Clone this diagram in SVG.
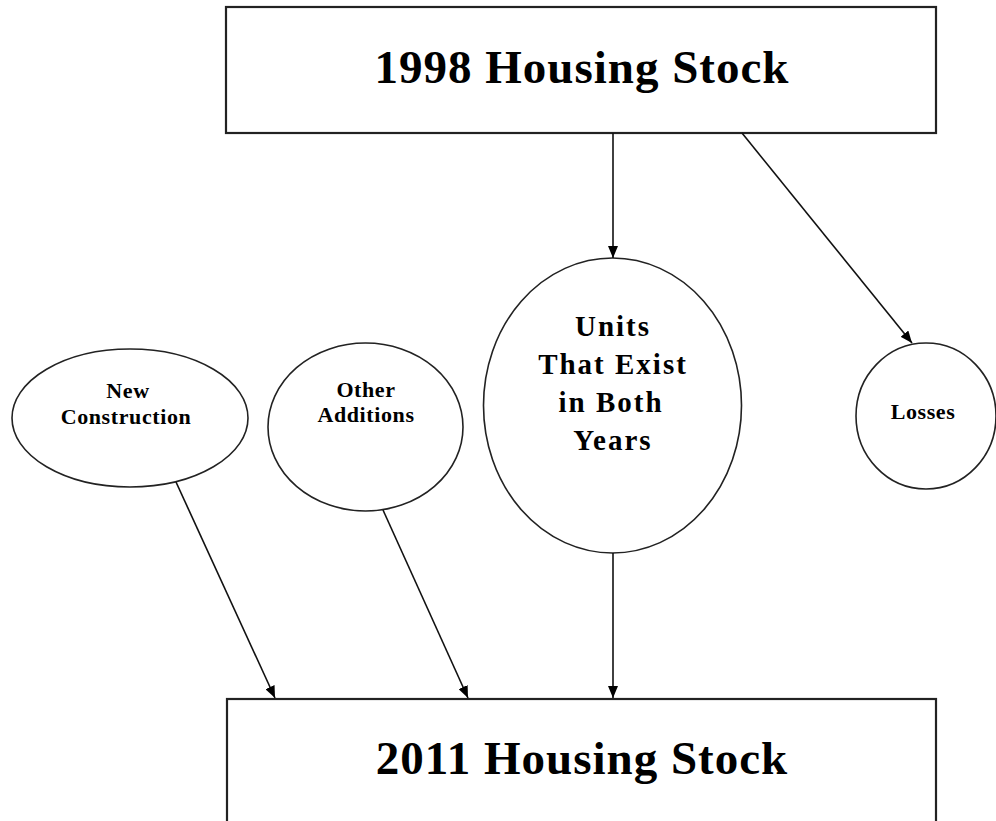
<svg xmlns="http://www.w3.org/2000/svg" width="996" height="821" viewBox="0 0 996 821">
<style>
.box{fill:#fff;stroke:#222;stroke-width:2.2}
.ell{fill:#fff;stroke:#222;stroke-width:1.6}
.t{font-family:"Liberation Serif","Times New Roman",serif;font-weight:bold;fill:#000;text-anchor:middle}
.big{font-size:47px;letter-spacing:1px}
.mid{font-size:29px;letter-spacing:2px}
.sm{font-size:22px;letter-spacing:0.6px}
.con{stroke:#111;stroke-width:1.6;fill:none;marker-end:url(#ah)}
</style>
<defs>
<marker id="ah" viewBox="0 0 12 10" refX="12" refY="5" markerWidth="12" markerHeight="10" markerUnits="userSpaceOnUse" orient="auto">
<path d="M0,0 L12,5 L0,10 Z" fill="#000"/>
</marker>
</defs>
<rect width="996" height="821" fill="#fff"/>
<g id="stock1998">
<rect class="box" x="226" y="7" width="710" height="126"/>
<text class="t big" x="582" y="83">1998 Housing Stock</text>
</g>
<g id="stock2011">
<rect class="box" x="227" y="699" width="709" height="130"/>
<text class="t big" x="582" y="774">2011 Housing Stock</text>
</g>
<g id="newConstruction">
<ellipse class="ell" cx="130" cy="418" rx="118" ry="69"/>
<text class="t sm" x="128" y="398">New</text>
<text class="t sm" x="126" y="424">Construction</text>
</g>
<g id="otherAdditions">
<ellipse class="ell" cx="365.5" cy="427" rx="97.5" ry="84"/>
<text class="t sm" x="366" y="397">Other</text>
<text class="t sm" x="366" y="422">Additions</text>
</g>
<g id="unitsBoth">
<ellipse class="ell" cx="612.5" cy="405.5" rx="129" ry="147.5"/>
<text class="t mid" x="613" y="336">Units</text>
<text class="t mid" x="613" y="374">That Exist</text>
<text class="t mid" x="611" y="412">in Both</text>
<text class="t mid" x="613" y="450">Years</text>
</g>
<g id="losses">
<ellipse class="ell" cx="926" cy="416" rx="70" ry="73"/>
<text class="t sm" x="923" y="419">Losses</text>
</g>
<g id="connectors">
<line class="con" x1="613" y1="133" x2="613" y2="258"/>
<line class="con" x1="742" y1="133" x2="912" y2="343"/>
<line class="con" x1="176" y1="482" x2="275" y2="698"/>
<line class="con" x1="383" y1="510" x2="468" y2="698"/>
<line class="con" x1="613" y1="553" x2="613" y2="698"/>
</g>
</svg>
